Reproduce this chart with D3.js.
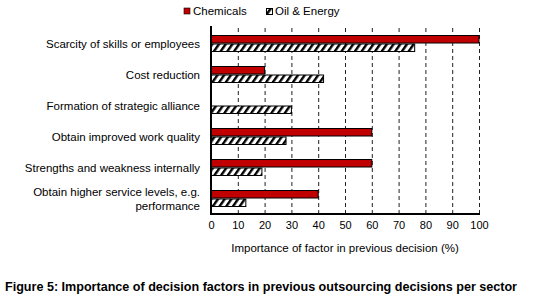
<!DOCTYPE html>
<html><head><meta charset="utf-8">
<script src="https://cdn.jsdelivr.net/npm/d3@7"></script>
<style>body{margin:0;background:#fff;}svg{display:block;font-family:"Liberation Sans",Arial,sans-serif;}</style>
</head><body>
<svg id="c" width="554" height="300"></svg>
<script>
const categories = [
  ["Scarcity of skills or employees"],
  ["Cost reduction"],
  ["Formation of strategic alliance"],
  ["Obtain improved work quality"],
  ["Strengths and weakness internally"],
  ["Obtain higher service levels, e.g.", "performance"]
];
const seriesNames = ["Chemicals", "Oil & Energy"];
const chemicals = [100, 20, 0, 60, 60, 40];
const oilEnergy = [76, 42, 30, 28, 19, 13];
const xTicks = [0,10,20,30,40,50,60,70,80,90,100];
const axisTitle = "Importance of factor in previous decision (%)";
const caption = "Figure 5: Importance of decision factors in previous outsourcing decisions per sector";

(function(){
const svg = d3.select("#c");
const defs = svg.append("defs");
const pat = defs.append("pattern").attr("id","hatch").attr("patternUnits","userSpaceOnUse")
  .attr("width",5.5).attr("height",6).attr("patternTransform","rotate(35)");
pat.append("rect").attr("width",5.5).attr("height",6).attr("fill","#fff");
pat.append("rect").attr("x",0).attr("y",0).attr("width",2.4).attr("height",6).attr("fill","#000");

const pL = 211, pR = 479, pT = 28, pB = 214;
const x = d3.scaleLinear().domain([0,100]).range([pL,pR]);
const y = d3.scaleBand().domain(d3.range(categories.length)).range([pT,pB]);
const inner = d3.scaleBand().domain([0,1]).range([y.bandwidth()/2-8.5, y.bandwidth()/2+8.5]);

// gridlines
svg.append("g").selectAll("line").data(xTicks.slice(1)).join("line")
  .attr("x1",d=>x(d)+0.5).attr("x2",d=>x(d)+0.5).attr("y1",pT).attr("y2",pB)
  .attr("stroke","#222").attr("stroke-width",1).attr("stroke-dasharray","4,3");

const fills = ["#c00000","url(#hatch)"];
const data = [chemicals, oilEnergy];
data.forEach((vals,si)=>{
  svg.append("g").selectAll("rect").data(vals).join("rect")
    .attr("x",x(0)).attr("y",(d,i)=>y(i)+inner(si)+0.5)
    .attr("width",d=>x(d)-x(0)).attr("height",inner.bandwidth()-1)
    .attr("fill",fills[si]).attr("stroke","#000").attr("stroke-width",1)
    .attr("display",d=>d>0?null:"none");
});

// axes
const xAxis = d3.axisBottom(x).tickValues(xTicks).tickSize(0).tickPadding(7);
const gx = svg.append("g").attr("transform",`translate(0,${pB})`).call(xAxis);
gx.select(".domain").remove();
gx.selectAll("text").attr("font-size",11).attr("font-family","Liberation Sans, Arial, sans-serif").attr("fill","#000");
svg.append("line").attr("x1",pL-1).attr("x2",pR+1).attr("y1",pB).attr("y2",pB).attr("stroke","#000").attr("stroke-width",2);
svg.append("line").attr("x1",pL).attr("x2",pL).attr("y1",pT-2).attr("y2",pB+1).attr("stroke","#000").attr("stroke-width",2);

// category labels
const lab = svg.append("g").selectAll("text").data(categories).join("text")
  .attr("x",200).attr("y",(d,i)=>y(i)+y.bandwidth()/2 - (d.length-1)*7)
  .attr("text-anchor","end").attr("font-size",11.5).attr("fill","#000");
lab.each(function(d){
  const t=d3.select(this);
  d.forEach((s,k)=>t.append("tspan").attr("x",200).attr("dy",k===0?"0.35em":"14").text(s));
});

svg.append("text").attr("x",345).attr("y",252).attr("text-anchor","middle").attr("font-size",11.5).text(axisTitle);

// legend
const lg = svg.append("g");
lg.append("rect").attr("x",184).attr("y",8).attr("width",6).attr("height",6).attr("fill","#c00000").attr("stroke","#000").attr("stroke-width",0.6);
lg.append("text").attr("x",193).attr("y",15).attr("font-size",11.5).text(seriesNames[0]);
lg.append("rect").attr("x",266.5).attr("y",8.5).attr("width",6).attr("height",6).attr("fill","url(#hatch)").attr("stroke","#000").attr("stroke-width",1);
lg.append("text").attr("x",275).attr("y",15).attr("font-size",11.5).text(seriesNames[1]);

svg.append("text").attr("x",5).attr("y",291).attr("font-size",12).attr("font-weight","bold")
  .attr("textLength",512).attr("lengthAdjust","spacingAndGlyphs").text(caption);
})();
</script>
</body></html>
